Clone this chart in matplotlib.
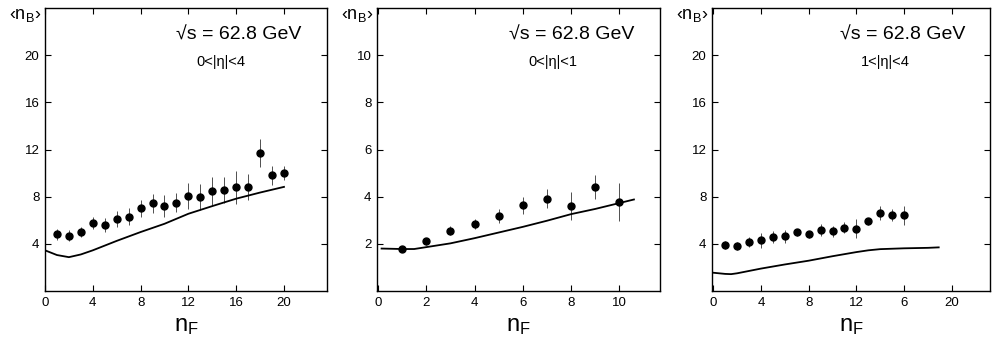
import numpy as np
import matplotlib
matplotlib.use("Agg")
import matplotlib.pyplot as plt

plt.rcParams['font.family'] = ['Liberation Sans', 'DejaVu Sans']
plt.rcParams['mathtext.fontset'] = 'custom'
plt.rcParams['mathtext.rm'] = 'Liberation Sans'
plt.rcParams['mathtext.it'] = 'Liberation Sans'

# panel 1: 0<|eta|<4
nf_1 = [1, 2, 3, 4, 5, 6, 7, 8, 9, 10, 11, 12, 13, 14, 15, 16, 17, 18, 19, 20]
nb_1 = [4.8, 4.7, 5.0, 5.8, 5.6, 6.1, 6.3, 7.0, 7.45, 7.2, 7.5, 8.05, 8.0, 8.5, 8.55, 8.8, 8.8, 11.7, 9.8, 10.0]
err_1 = [0.5, 0.5, 0.4, 0.5, 0.6, 0.7, 0.7, 0.7, 0.8, 0.9, 0.8, 1.1, 1.1, 1.2, 1.1, 1.4, 1.1, 1.2, 0.8, 0.6]
curve_x1 = [0, 1, 2, 3, 4, 6, 8, 10, 12, 14, 16, 18, 20]
curve_y1 = [3.45, 3.05, 2.87, 3.1, 3.45, 4.25, 5.0, 5.7, 6.55, 7.2, 7.83, 8.35, 8.83]

# panel 2: 0<|eta|<1
nf_2 = [1, 2, 3, 4, 5, 6, 7, 8, 9, 10]
nb_2 = [1.78, 2.1, 2.56, 2.84, 3.18, 3.63, 3.91, 3.6, 4.4, 3.76]
err_2 = [0.1, 0.15, 0.2, 0.2, 0.3, 0.35, 0.4, 0.6, 0.5, 0.8]
curve_x2 = [0.15, 1.0, 1.5, 2, 3, 4, 5, 6, 7, 8, 9, 10, 10.6]
curve_y2 = [1.8, 1.78, 1.78, 1.86, 2.02, 2.24, 2.48, 2.72, 2.98, 3.26, 3.48, 3.73, 3.88]

# panel 3: 1<|eta|<4
nf_3 = [1, 2, 3, 4, 5, 6, 7, 8, 9, 10, 11, 12, 13, 14, 15, 16]
nb_3 = [3.9, 3.8, 4.15, 4.3, 4.6, 4.65, 4.97, 4.83, 5.2, 5.05, 5.37, 5.28, 5.93, 6.64, 6.47, 6.41]
err_3 = [0.3, 0.35, 0.45, 0.65, 0.5, 0.55, 0.3, 0.3, 0.5, 0.45, 0.45, 0.8, 0.3, 0.6, 0.5, 0.8]
curve_x3 = [0, 1, 1.5, 2, 4, 6, 8, 10, 12, 13, 14, 16, 18, 18.9]
curve_y3 = [1.55, 1.45, 1.43, 1.5, 1.9, 2.25, 2.57, 2.95, 3.3, 3.45, 3.55, 3.62, 3.66, 3.7]

panels = [
    dict(x=nf_1, y=nb_1, e=err_1, cx=curve_x1, cy=curve_y1, eta="0<|η|<4",
         xlim=(0, 23.6), ylim=(0, 24), xt=[0, 4, 8, 12, 16, 20],
         xtl=["0", "4", "8", "12", "16", "20"], yt=[4, 8, 12, 16, 20],
         rect=[45, 327]),
    dict(x=nf_2, y=nb_2, e=err_2, cx=curve_x2, cy=curve_y2, eta="0<|η|<1",
         xlim=(-0.04, 11.68), ylim=(0, 12), xt=[0, 2, 4, 6, 8, 10],
         xtl=["0", "2", "4", "6", "8", "10"], yt=[2, 4, 6, 8, 10],
         rect=[377, 660]),
    dict(x=nf_3, y=nb_3, e=err_3, cx=curve_x3, cy=curve_y3, eta="1<|η|<4",
         xlim=(-0.1, 23.2), ylim=(0, 24), xt=[0, 4, 8, 12, 16, 20],
         xtl=["0", "4", "8", "12", "6", "20"], yt=[4, 8, 12, 16, 20],
         rect=[712, 990]),
]

W, H = 992, 347
fig = plt.figure(figsize=(W / 100, H / 100), dpi=100)

for p in panels:
    left, right = p['rect']
    ax = fig.add_axes([left / W, 1 - 291 / H, (right - left) / W, (291 - 8) / H])
    ax.errorbar(p['x'], p['y'], yerr=p['e'], fmt='o', color='black', ms=5,
                ecolor='#333333', elinewidth=0.6, capsize=0)
    ax.plot(p['cx'], p['cy'], color='black', lw=1.3)
    ax.set_xlim(*p['xlim'])
    ax.set_ylim(*p['ylim'])
    ax.set_xticks(p['xt'])
    ax.set_xticklabels(p['xtl'])
    ax.set_yticks(p['yt'])
    ax.tick_params(direction='in', top=True, right=True, length=4, width=0.8,
                   labelsize=9.5, pad=4)
    for s in ax.spines.values():
        s.set_linewidth(1.0)
    ax.set_xlabel(r'$\mathrm{n_F}$', fontsize=17, labelpad=5)
    ax.text(-0.012, 0.975, '‹$\\mathrm{n_B}$›', transform=ax.transAxes,
            ha='right', va='center', fontsize=13)
    ax.text(0.91, 0.905, '√s = 62.8 GeV', transform=ax.transAxes,
            ha='right', va='center', fontsize=14)
    ax.text(0.623, 0.81, p['eta'], transform=ax.transAxes,
            ha='center', va='center', fontsize=10.5)

fig.savefig('out.png', dpi=100)
